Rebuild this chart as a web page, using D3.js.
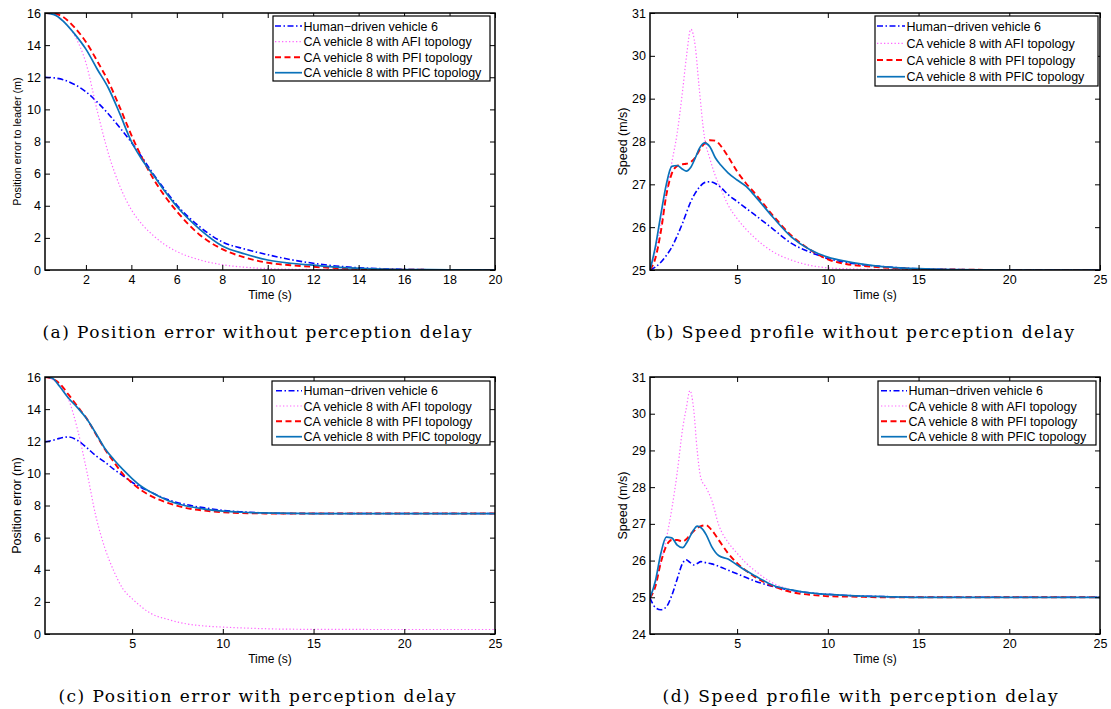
<!DOCTYPE html>
<html>
<head>
<meta charset="utf-8">
<script src="https://cdn.jsdelivr.net/npm/d3@7/dist/d3.min.js"></script>
<style>
  html, body { margin: 0; padding: 0; background: #fff; }
  svg { display: block; }
  .tick text { font-family: "Liberation Sans", Arial, Helvetica, sans-serif; fill: #000; }
</style>
</head>
<body>
<script>
// ---------- Series names ----------
const seriesNames = [
  "Human\u2212driven vehicle 6",
  "CA vehicle 8 with AFI topology",
  "CA vehicle 8 with PFI topology",
  "CA vehicle 8 with PFIC topology"
];

// ---------- (a) Position error without perception delay ----------
const timeA  = [0.2, 0.6, 1, 1.5, 2, 2.5, 3, 3.5, 4, 4.5, 5, 5.5, 6, 7, 8, 9, 10, 11, 12, 13, 14, 15, 16, 17, 18, 20];
const humanA = [12, 11.96, 11.85, 11.55, 11.1, 10.45, 9.7, 8.85, 7.95, 6.95, 5.9, 4.95, 4.05, 2.7, 1.75, 1.3, 0.95, 0.65, 0.42, 0.25, 0.14, 0.08, 0.04, 0.02, 0.01, 0];
const afiA   = [16, 15.9, 15.5, 14.6, 12.9, 9.9, 7.2, 5.2, 3.75, 2.8, 2.1, 1.55, 1.15, 0.63, 0.33, 0.17, 0.09, 0.05, 0.03, 0.02, 0.01, 0, 0, 0, 0, 0];
const pfiA   = [16, 15.97, 15.75, 15.1, 14.2, 13.0, 11.7, 10.1, 8.4, 6.9, 5.6, 4.55, 3.65, 2.2, 1.3, 0.78, 0.45, 0.3, 0.2, 0.12, 0.07, 0.04, 0.02, 0.01, 0, 0];
const pficA  = [16, 15.9, 15.5, 14.7, 13.75, 12.5, 11.3, 9.7, 8.0, 6.8, 5.85, 4.85, 3.95, 2.55, 1.5, 1.0, 0.62, 0.42, 0.3, 0.18, 0.11, 0.06, 0.03, 0.02, 0.01, 0];
const xTicksA = [2, 4, 6, 8, 10, 12, 14, 16, 18, 20];
const yTicksA = [0, 2, 4, 6, 8, 10, 12, 14, 16];

// ---------- (b) Speed profile without perception delay ----------
const timeB  = [0.2, 0.5, 0.8, 1.1, 1.4, 1.7, 2.0, 2.2, 2.45, 2.7, 2.9, 3.2, 3.5, 3.8, 4.1, 4.5, 5, 5.5, 6, 7, 8, 9, 10, 11, 12, 13, 14, 15, 17, 20, 25];
const humanB = [25, 25.07, 25.18, 25.34, 25.53, 25.8, 26.1, 26.33, 26.6, 26.8, 26.92, 27.04, 27.06, 27.02, 26.93, 26.76, 26.6, 26.44, 26.28, 25.95, 25.62, 25.42, 25.27, 25.18, 25.12, 25.08, 25.05, 25.03, 25.01, 25, 25];
const afiB   = [25, 25.45, 26.05, 26.75, 27.5, 28.2, 29.2, 29.95, 30.62, 30.2, 29.3, 28.1, 27.6, 27.2, 26.9, 26.52, 26.2, 25.95, 25.74, 25.42, 25.23, 25.11, 25.05, 25.03, 25.02, 25.01, 25.01, 25, 25, 25, 25];
const pfiB   = [25, 25.28, 25.9, 26.75, 27.25, 27.43, 27.47, 27.48, 27.52, 27.63, 27.78, 27.95, 28.03, 28.02, 27.9, 27.65, 27.3, 27.02, 26.78, 26.26, 25.8, 25.48, 25.25, 25.14, 25.09, 25.06, 25.04, 25.02, 25.01, 25, 25];
const pficB  = [25, 25.55, 26.3, 27.0, 27.42, 27.44, 27.35, 27.31, 27.4, 27.62, 27.82, 27.97, 27.88, 27.62, 27.45, 27.27, 27.1, 26.95, 26.72, 26.22, 25.77, 25.48, 25.3, 25.2, 25.13, 25.08, 25.05, 25.03, 25.01, 25, 25];
const xTicksB = [5, 10, 15, 20, 25];
const yTicksB = [25, 26, 27, 28, 29, 30, 31];

// ---------- (c) Position error with perception delay ----------
const timeC  = [0.2, 0.6, 1.0, 1.5, 2.0, 2.5, 3.0, 3.5, 4, 4.5, 5, 5.5, 6, 7, 8, 9, 10, 11, 12, 13, 15, 20, 25];
const humanC = [11.96, 12.05, 12.18, 12.27, 12.05, 11.6, 11.1, 10.7, 10.25, 9.85, 9.45, 9.12, 8.85, 8.35, 8.05, 7.85, 7.7, 7.61, 7.55, 7.51, 7.5, 7.5, 7.5];
const afiC   = [16, 15.85, 15.5, 14.6, 12.7, 10.15, 7.35, 5.35, 3.9, 2.8, 2.2, 1.7, 1.3, 0.9, 0.63, 0.5, 0.43, 0.38, 0.34, 0.31, 0.29, 0.28, 0.28];
const pfiC   = [16, 15.9, 15.6, 14.9, 14.15, 13.41, 12.45, 11.5, 10.7, 9.95, 9.4, 8.95, 8.62, 8.15, 7.84, 7.68, 7.58, 7.53, 7.51, 7.5, 7.5, 7.5, 7.5];
const pficC  = [16, 15.92, 15.42, 14.68, 14.08, 13.4, 12.5, 11.55, 10.85, 10.23, 9.68, 9.2, 8.85, 8.3, 7.97, 7.78, 7.65, 7.58, 7.54, 7.52, 7.5, 7.5, 7.5];
const xTicksC = [5, 10, 15, 20, 25];
const yTicksC = [0, 2, 4, 6, 8, 10, 12, 14, 16];

// ---------- (d) Speed profile with perception delay ----------
const timeD  = [0.2, 0.5, 0.8, 1.1, 1.4, 1.7, 2.0, 2.2, 2.4, 2.6, 2.8, 3.0, 3.3, 3.6, 4.0, 4.5, 5, 5.5, 6, 7, 8, 9, 10, 11, 12, 13, 15, 20, 25];
const humanD = [24.98, 24.72, 24.66, 24.74, 25.05, 25.5, 25.93, 26.02, 25.95, 25.88, 25.92, 25.97, 25.94, 25.91, 25.84, 25.74, 25.64, 25.54, 25.44, 25.29, 25.19, 25.12, 25.08, 25.05, 25.03, 25.02, 25, 25, 25];
const afiD   = [24.98, 25.4, 25.95, 26.6, 27.4, 28.4, 29.6, 30.15, 30.63, 30.15, 29.0, 28.25, 27.98, 27.65, 26.95, 26.5, 26.2, 25.93, 25.72, 25.38, 25.2, 25.12, 25.08, 25.05, 25.03, 25.02, 25, 25, 25];
const pfiD   = [24.98, 25.3, 25.95, 26.4, 26.56, 26.56, 26.52, 26.58, 26.7, 26.8, 26.88, 26.94, 26.96, 26.83, 26.55, 26.2, 25.93, 25.72, 25.55, 25.3, 25.14, 25.07, 25.03, 25.02, 25.01, 25, 25, 25, 25];
const pficD  = [24.98, 25.45, 26.2, 26.64, 26.62, 26.42, 26.35, 26.47, 26.65, 26.83, 26.94, 26.9, 26.7, 26.38, 26.13, 26.04, 25.88, 25.72, 25.58, 25.32, 25.2, 25.12, 25.08, 25.05, 25.03, 25.02, 25, 25, 25];
const xTicksD = [5, 10, 15, 20, 25];
const yTicksD = [24, 25, 26, 27, 28, 29, 30, 31];

// ---------- Captions and axis labels ----------
const captions = [
  "(a) Position error without perception delay",
  "(b) Speed profile without perception delay",
  "(c) Position error with perception delay",
  "(d) Speed profile with perception delay"
];
const xLabel = "Time (s)";
const yLabels = ["Position error to leader (m)", "Speed (m/s)", "Position error (m)", "Speed (m/s)"];

// ---------- Line styles (series order: human, AFI, PFI, PFIC) ----------
const styles = [
  { color: "#0000ff", width: 1.6, dash: "6,2.5,1.5,2.5" },
  { color: "#ff66ff", width: 1.2, dash: "1.3,2.2" },
  { color: "#ff0000", width: 1.9, dash: "6,3.5" },
  { color: "#0a72ba", width: 1.7, dash: null }
];

const W = 1111, H = 709;
const svg = d3.select("body").append("svg")
  .attr("width", W).attr("height", H)
  .attr("viewBox", `0 0 ${W} ${H}`);

const panels = [
  { box: [45, 13, 495, 270], xDom: [0.2, 20], yDom: [0, 16], xt: xTicksA, yt: yTicksA,
    t: timeA, ys: [humanA, afiA, pfiA, pficA], yLab: yLabels[0], yLabSize: 10.8, yLabX: 21,
    legend: { x0: 273, y0: 16, x1: 490, y1: 81, rows: [26, 41.7, 57.3, 72.7], s0: 275, s1: 302, tx: 303.5 },
    cap: captions[0], capX: 257, capY: 338, capW: 429 },
  { box: [650, 13, 1100, 270], xDom: [0.2, 25], yDom: [25, 31], xt: xTicksB, yt: yTicksB,
    t: timeB, ys: [humanB, afiB, pfiB, pficB], yLab: yLabels[1], yLabSize: 12.5, yLabX: 627,
    legend: { x0: 875, y0: 16, x1: 1098, y1: 86, rows: [26, 43.3, 60, 76.7], s0: 877, s1: 905, tx: 906.5 },
    cap: captions[1], capX: 860, capY: 338, capW: 428 },
  { box: [45, 377, 495, 634], xDom: [0.2, 25], yDom: [0, 16], xt: xTicksC, yt: yTicksC,
    t: timeC, ys: [humanC, afiC, pfiC, pficC], yLab: yLabels[2], yLabSize: 12.5, yLabX: 21,
    legend: { x0: 272, y0: 381, x1: 490, y1: 445, rows: [390.7, 406, 421.3, 436.7], s0: 276, s1: 302, tx: 303.5 },
    cap: captions[2], capX: 257, capY: 702, capW: 397 },
  { box: [650, 377, 1100, 634], xDom: [0.2, 25], yDom: [24, 31], xt: xTicksD, yt: yTicksD,
    t: timeD, ys: [humanD, afiD, pfiD, pficD], yLab: yLabels[3], yLabSize: 12.5, yLabX: 627,
    legend: { x0: 878, y0: 381, x1: 1096, y1: 445, rows: [390.7, 406, 421.3, 436.7], s0: 881, s1: 907, tx: 908.5 },
    cap: captions[3], capX: 860, capY: 702, capW: 395 }
];

panels.forEach((p, i) => drawPanel(p, i));

function drawPanel(p, idx) {
  const [x0, y0, x1, y1] = p.box;
  const x = d3.scaleLinear().domain(p.xDom).range([x0, x1]);
  const y = d3.scaleLinear().domain(p.yDom).range([y1, y0]);
  const g = svg.append("g");

  // clip for the curves
  const clipId = "clip" + idx;
  svg.append("clipPath").attr("id", clipId)
    .append("rect").attr("x", x0).attr("y", y0).attr("width", x1 - x0).attr("height", y1 - y0);

  // curves
  const line = d3.line().x(d => x(d[0])).y(d => y(d[1])).curve(d3.curveMonotoneX);
  const curves = g.append("g").attr("clip-path", `url(#${clipId})`);
  p.ys.forEach((vals, k) => {
    const pts = p.t.map((t, j) => [t, vals[j]]);
    const st = styles[k];
    curves.append("path").datum(pts)
      .attr("d", line)
      .attr("fill", "none")
      .attr("stroke", st.color)
      .attr("stroke-width", st.width)
      .attr("stroke-dasharray", st.dash)
      .attr("stroke-linejoin", "round");
  });

  // axes: inward ticks on all four sides
  const fs = 12.5;
  const bottom = g.append("g").attr("transform", `translate(0,${y1})`)
    .call(d3.axisBottom(x).tickValues(p.xt).tickFormat(d3.format("d")).tickSizeInner(-5).tickSizeOuter(0).tickPadding(5));
  const top = g.append("g").attr("transform", `translate(0,${y0})`)
    .call(d3.axisTop(x).tickValues(p.xt).tickFormat("").tickSizeInner(-5).tickSizeOuter(0));
  const left = g.append("g").attr("transform", `translate(${x0},0)`)
    .call(d3.axisLeft(y).tickValues(p.yt).tickFormat(d3.format("d")).tickSizeInner(-5).tickSizeOuter(0).tickPadding(4));
  const right = g.append("g").attr("transform", `translate(${x1},0)`)
    .call(d3.axisRight(y).tickValues(p.yt).tickFormat("").tickSizeInner(-5).tickSizeOuter(0));
  [bottom, top, left, right].forEach(a => {
    a.select(".domain").remove();
    a.selectAll(".tick line").attr("stroke", "#000").attr("stroke-width", 1);
    a.selectAll(".tick text").attr("font-size", fs);
  });

  // frame
  g.append("rect").attr("x", x0).attr("y", y0).attr("width", x1 - x0).attr("height", y1 - y0)
    .attr("fill", "none").attr("stroke", "#000").attr("stroke-width", 1.5);

  // axis labels
  g.append("text")
    .attr("x", (x0 + x1) / 2).attr("y", y1 + 28.5)
    .attr("text-anchor", "middle")
    .attr("font-family", "Liberation Sans, Arial, sans-serif")
    .attr("font-size", 12)
    .text(xLabel);
  g.append("text")
    .attr("transform", `translate(${p.yLabX},${(y0 + y1) / 2}) rotate(-90)`)
    .attr("text-anchor", "middle")
    .attr("font-family", "Liberation Sans, Arial, sans-serif")
    .attr("font-size", p.yLabSize)
    .text(p.yLab);

  // legend
  const L = p.legend;
  const lg = g.append("g");
  lg.append("rect").attr("x", L.x0).attr("y", L.y0).attr("width", L.x1 - L.x0).attr("height", L.y1 - L.y0)
    .attr("fill", "#fff").attr("stroke", "#000").attr("stroke-width", 1.2);
  seriesNames.forEach((name, k) => {
    const st = styles[k];
    const ry = L.rows[k];
    lg.append("line").attr("x1", L.s0).attr("x2", L.s1).attr("y1", ry).attr("y2", ry)
      .attr("stroke", st.color).attr("stroke-width", st.width).attr("stroke-dasharray", st.dash);
    lg.append("text").attr("x", L.tx).attr("y", ry).attr("dy", "0.36em")
      .attr("font-family", "Liberation Sans, Arial, sans-serif")
      .attr("font-size", 12.5)
      .text(name);
  });

  // caption
  svg.append("text")
    .attr("x", p.capX).attr("y", p.capY)
    .attr("text-anchor", "middle")
    .attr("font-family", "DejaVu Serif, Liberation Serif, serif")
    .attr("font-size", 17)
    .attr("textLength", p.capW)
    .attr("lengthAdjust", "spacing")
    .text(p.cap);
}
</script>
</body>
</html>
